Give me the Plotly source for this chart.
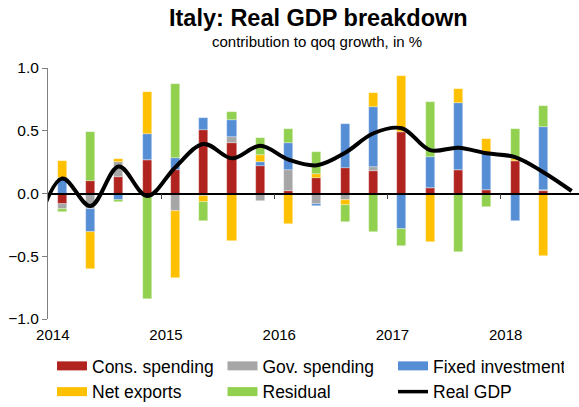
import plotly.graph_objects as go

# ---- data (contributions to qoq growth, %) ----
quarters = ["2014Q1", "2014Q2", "2014Q3", "2014Q4",
            "2015Q1", "2015Q2", "2015Q3", "2015Q4",
            "2016Q1", "2016Q2", "2016Q3", "2016Q4",
            "2017Q1", "2017Q2", "2017Q3", "2017Q4",
            "2018Q1", "2018Q2", "2018Q3"]
year_labels = ["2014", "2015", "2016", "2017", "2018"]

cons_spending = [-0.08, 0.10, 0.13, 0.27, 0.19, 0.51, 0.40, 0.22, 0.02, 0.12, 0.20, 0.18,
                 0.49, 0.045, 0.19, 0.03, 0.26, 0.02, None]
gov_spending = [-0.045, -0.125, 0.125, 0.0, -0.14, -0.02, 0.05, -0.06, 0.165, -0.08, -0.05, 0.035,
                0.0, 0.0, 0.0, 0.0, 0.0, 0.008, None]
fixed_investment = [0.12, -0.18, -0.05, 0.205, 0.09, 0.095, 0.135, 0.035, 0.22, -0.02, 0.355, 0.475,
                    -0.28, 0.245, 0.535, 0.29, -0.22, 0.50, None]
net_exports = [0.14, -0.295, 0.02, 0.33, -0.53, -0.05, -0.38, 0.05, -0.245, 0.035, -0.04, 0.11,
               0.45, -0.39, 0.11, 0.115, 0.015, -0.50, None]
residual = [-0.02, 0.39, -0.02, -0.84, 0.59, -0.15, 0.065, 0.135, 0.11, 0.175, -0.135, -0.31,
            -0.135, 0.44, -0.47, -0.11, 0.24, 0.17, None]
# Real GDP line, starting one quarter earlier (2013Q4) so the curve enters from the axis edge
gdp_start_label = "2013Q4"
real_gdp = [-0.35, 0.12, -0.10, 0.215, -0.02, 0.21, 0.395, 0.28, 0.38, 0.27, 0.225, 0.325, 0.48,
            0.52, 0.345, 0.365, 0.32, 0.29, 0.17, 0.02]

colors = {
    "Cons. spending": "#B0231E",
    "Gov. spending": "#A6A6A6",
    "Fixed investment": "#558ED5",
    "Net exports": "#FFC000",
    "Residual": "#92D050",
}

x_idx = list(range(len(quarters)))
x_line = [-1] + x_idx

fig = go.Figure()
series = [("Cons. spending", cons_spending), ("Gov. spending", gov_spending),
          ("Fixed investment", fixed_investment), ("Net exports", net_exports),
          ("Residual", residual)]
for name, vals in series:
    fig.add_trace(go.Bar(
        x=x_idx, y=vals, name=name, width=0.32, showlegend=False, legendgroup=name,
        marker=dict(color=colors[name], line=dict(width=0.6, color="rgba(255,255,255,0.5)")),
        hovertext=quarters,
    ))

fig.add_trace(go.Scatter(
    x=x_line, y=real_gdp, name="Real GDP", mode="lines", showlegend=False, legendgroup="gdp",
    line=dict(color="black", width=4, shape="spline", smoothing=1.0),
    hovertext=[gdp_start_label] + quarters,
))

# legend entries (wide flat swatches like the original)
for name, _ in series:
    fig.add_trace(go.Scatter(x=[None], y=[None], name=name, mode="lines", legendgroup=name,
                             line=dict(color=colors[name], width=9)))
fig.add_trace(go.Scatter(x=[None], y=[None], name="Real GDP", mode="lines", legendgroup="gdp",
                         line=dict(color="black", width=3.5)))

W, H = 579, 407
ml, mr, mt, mb = 48, 0, 68, 88
pw, ph = W - ml - mr, H - mt - mb
font_family = "Liberation Sans, Arial, sans-serif"

year_pos = [4 * i - 0.33 for i in range(len(year_labels))]
boundaries = [4 * i - 0.5 for i in range(1, len(year_labels))]

fig.update_layout(
    width=W, height=H,
    margin=dict(l=ml, r=mr, t=mt, b=mb, pad=0, autoexpand=False),
    barmode="relative",
    bargap=0,
    plot_bgcolor="white", paper_bgcolor="white",
    font=dict(family=font_family, color="black", size=15),
    xaxis=dict(
        range=[-0.5, 18.26], tickmode="array", tickvals=year_pos, ticktext=year_labels,
        showgrid=False, zeroline=False, showline=False,
        ticks="outside", ticklen=2, tickcolor="rgba(0,0,0,0)",
        tickfont=dict(size=15),
    ),
    xaxis2=dict(
        overlaying="x", anchor="free", position=0.5, range=[-0.5, 18.26],
        tickmode="array", tickvals=boundaries, showticklabels=False,
        showline=True, linecolor="black", linewidth=1.5,
        ticks="outside", ticklen=5, tickcolor="#404040", tickwidth=1,
        showgrid=False, zeroline=False, layer="above traces",
    ),
    yaxis=dict(
        range=[-1, 1], tickmode="array", tickvals=[-1, -0.5, 0, 0.5, 1], tickformat=".1f",
        showgrid=False, zeroline=False, showline=True, linecolor="#808080", linewidth=1,
        ticks="outside", ticklen=5, tickcolor="#808080",
        tickfont=dict(size=15.5),
    ),
    showlegend=True,
    legend=dict(
        orientation="h", x=(52 - ml) / pw, xanchor="left", y=-(H + 3 - mt - ph) / ph, yanchor="bottom",
        entrywidth=125.5, entrywidthmode="pixels",
        font=dict(size=17.5), itemwidth=30, tracegroupgap=0,
        bgcolor="rgba(0,0,0,0)",
    ),
    annotations=[
        dict(text="<b>Italy: Real GDP breakdown</b>", xref="paper", yref="paper",
             x=(318 - ml) / pw, y=(mt + ph - 18) / ph, xanchor="center", yanchor="middle",
             showarrow=False, font=dict(size=23.5, family=font_family)),
        dict(text="contribution to qoq growth, in %", xref="paper", yref="paper",
             x=(317 - ml) / pw, y=(mt + ph - 41) / ph, xanchor="center", yanchor="middle",
             showarrow=False, font=dict(size=15, family=font_family)),
    ],
)

# invisible helper trace so the zero-line axis is rendered
fig.add_trace(go.Scatter(x=[None], y=[None], xaxis="x2", showlegend=False, hoverinfo="skip"))

fig.write_html("out.html")
